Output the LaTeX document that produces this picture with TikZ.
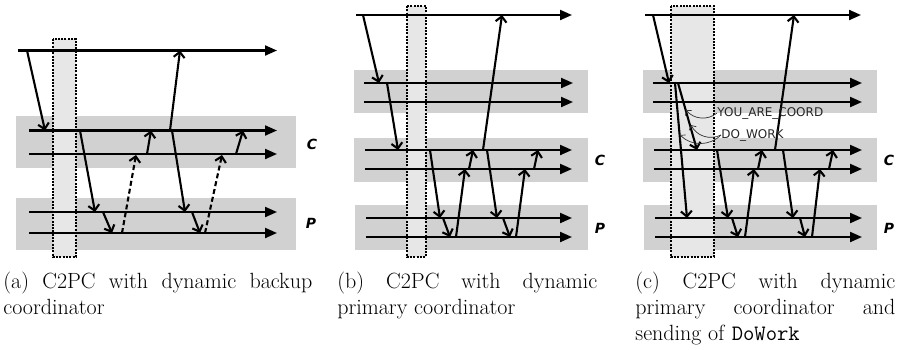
\documentclass[tikz,border=0pt]{standalone}
\usepackage{fontspec}
\usetikzlibrary{arrows.meta}
\newfontfamily\dejavu{DejaVu Sans}

\definecolor{bandgray}{RGB}{209,209,209}
\definecolor{wingray}{RGB}{231,231,231}

\newcommand\nohyph{\hyphenpenalty=10000\exhyphenpenalty=10000\tolerance=10000\hbadness=10000\relax}

\tikzset{every picture/.style={line width=0.75pt}}
\tikzset{
  band/.style={fill=bandgray, draw=none},
  window/.style={fill=wingray, draw=black, line width=2pt, dash pattern=on 2pt off 1.3pt},
  tline/.style={line width=2.1pt, -{Triangle[length=12pt,width=10pt]}},
  msg/.style={line width=2.1pt, -{Straight Barb[length=5.5pt,width=11pt]}},
  dmsg/.style={msg, dash pattern=on 5pt off 3pt},
  grp/.style={font=\dejavu\bfseries\itshape\fontsize{14}{16}\selectfont, inner sep=0pt},
  msgname/.style={font=\dejavu\fontsize{12}{14}\selectfont, text=black!85, inner sep=0pt, anchor=west},
  callout/.style={line width=0.7pt, draw=black!80, bend right=45, -{Straight Barb[length=3.5pt,width=8pt]}},
  subcap/.style={anchor=north west, inner sep=0pt, align=justify,
    font={\fontsize{22}{26}\selectfont\nohyph}}
}

\begin{document}
\begin{tikzpicture}[x=1pt,y=1pt,yscale=-1,xscale=1]
	\useasboundingbox (0,0) rectangle (897,349);

	% ---------- (a) ----------
	%Shape: Rectangle
	\draw [band] (16,116) rectangle (296,168);
	\draw [band] (16,198) rectangle (296,250);
	\draw [window] (53,39) rectangle (76,257);
	%Straight Lines
	\draw [tline] (18,50.5) -- (277,50.5);
	\draw [tline] (29,130.5) -- (277,130.5);
	\draw [tline] (29,154) -- (277,154);
	\draw [tline] (29,212) -- (277,212);
	\draw [tline] (29,233) -- (277,233);
	%Messages
	\draw [msg] (27,50.5) -- (45,130.5);
	\draw [msg] (80,130.5) -- (95,212);
	\draw [msg] (103,212) -- (112,233);
	\draw [dmsg] (122,233) -- (136,155);
	\draw [msg] (147,154) -- (151,130.5);
	\draw [msg] (170,130.5) -- (180,50.5);
	\draw [msg] (172,130.5) -- (185,212);
	\draw [msg] (192,212) -- (200,233);
	\draw [dmsg] (205,233) -- (222,155);
	\draw [msg] (236,154) -- (243,130.5);
	% Text Node
	\node [grp] (ca) at (312,144) {C};
	\node [grp] (pa) at (311,223) {P};
	\node [subcap, text width=309pt] (capa) at (3,271.5) {(a) C2PC with dynamic backup\linebreak coordinator};

	% ---------- (b) ----------
	%Shape: Rectangle
	\draw [band] (354,70) rectangle (588,113);
	\draw [band] (354,138) rectangle (588,182);
	\draw [band] (355,205) rectangle (588,250);
	\draw [window] (407,6) rectangle (426,257);
	%Straight Lines
	\draw [tline] (356,15) -- (572,15);
	\draw [tline] (364,83) -- (573,83);
	\draw [tline] (364,102) -- (573,102);
	\draw [tline] (365,150) -- (572,150);
	\draw [tline] (365,169) -- (572,169);
	\draw [tline] (366,218) -- (572,218);
	\draw [tline] (366,237) -- (572,237);
	%Messages
	\draw [msg] (363,15) -- (379,83);
	\draw [msg] (387,83) -- (398,150);
	\draw [msg] (430,150) -- (440,218);
	\draw [msg] (443,218) -- (450,237);
	\draw [msg] (456,237) -- (465,169);
	\draw [msg] (469,169) -- (473,150);
	\draw [msg] (483,150) -- (502,15);
	\draw [msg] (487,150) -- (497,218);
	\draw [msg] (503,218) -- (510,237);
	\draw [msg] (516,237) -- (525,169);
	\draw [msg] (534,169) -- (538,150);
	% Text Node
	\node [grp] (cb) at (600,160) {C};
	\node [grp] (pb) at (600,228) {P};
	\node [subcap, text width=260pt] (capb) at (337,271.5) {(b) C2PC with dynamic\linebreak primary coordinator};

	% ---------- (c) ----------
	%Shape: Rectangle
	\draw [band] (643,70) rectangle (877,113);
	\draw [band] (643,138) rectangle (877,182);
	\draw [band] (644,205) rectangle (877,250);
	\draw [window] (671,6) rectangle (714,257);
	%Straight Lines
	\draw [tline] (645,15) -- (861,15);
	\draw [tline] (653,83) -- (862,83);
	\draw [tline] (653,102) -- (862,102);
	\draw [tline] (654,150) -- (862,150);
	\draw [tline] (654,169) -- (862,169);
	\draw [tline] (655,218) -- (862,218);
	\draw [tline] (655,237) -- (862,237);
	%Messages
	\draw [msg] (653,15) -- (669,83);
	\draw [msg] (675,83) -- (687,218);
	\draw [msg] (678,83) -- (697,150);
	\draw [msg] (717,150) -- (728,218);
	\draw [msg] (732,218) -- (738,237);
	\draw [msg] (745,237) -- (754,169);
	\draw [msg] (758,169) -- (762,150);
	\draw [msg] (775,150) -- (794,15);
	\draw [msg] (783,150) -- (793,218);
	\draw [msg] (800,218) -- (805,237);
	\draw [msg] (812,237) -- (820,169);
	\draw [msg] (829,169) -- (833,150);
	% Text Node
	\node [msgname] (coord) at (717,113) {YOU\_ARE\_COORD};
	\node [msgname] (work) at (721,135) {DO\_WORK};
	\coordinate (coordmsg) at (686,110);
	\coordinate (workmsga) at (691,125);
	\coordinate (workmsgb) at (680,135);
	\draw [callout] (coord.west) to (coordmsg);
	\draw [callout] (work.west) to (workmsga);
	\draw [callout] (work.west) to (workmsgb);
	\node [grp] (cc) at (889,160) {C};
	\node [grp] (pc) at (889,228) {P};
	\node [subcap, text width=260pt] (capc) at (635,271.5) {(c) C2PC with dynamic\linebreak primary coordinator and\linebreak sending of \texttt{DoWork}};

\end{tikzpicture}
\end{document}
